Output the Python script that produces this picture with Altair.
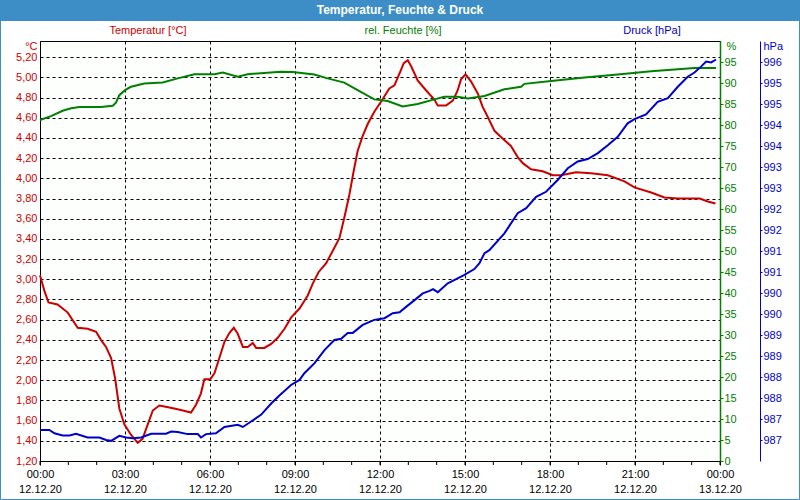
import altair as alt
import pandas as pd

# ---- data (hours since 12.12.20 00:00) ----
temp_h = [0, 0.15, 0.3, 0.62, 0.98, 1.33, 1.68, 1.98, 2.15, 2.33, 2.51, 2.65, 2.80, 2.98, 3.21, 3.45,
          3.62, 3.80, 3.98, 4.21, 4.39, 4.74, 5.04, 5.33, 5.51, 5.68, 5.80, 6.01, 6.16, 6.33, 6.51,
          6.69, 6.84, 6.98, 7.16, 7.33, 7.51, 7.63, 7.92, 8.16, 8.39, 8.63, 8.86, 9.16, 9.45, 9.63,
          9.83, 10.1, 10.33, 10.57, 10.74, 10.92, 11.07, 11.21, 11.39, 11.57, 11.8, 12.04, 12.33,
          12.51, 12.69, 12.84, 12.98, 13.1, 13.33, 13.63, 13.92, 14.04, 14.33, 14.57, 14.74, 14.86,
          15.02, 15.21, 15.45, 15.62, 15.8, 16.04, 16.27, 16.62, 16.86, 17.04, 17.33, 17.74, 18.1,
          18.39, 18.92, 19.45, 20.04, 20.63, 20.98, 21.57, 22.04, 22.51, 23.28, 23.57, 23.84]
temp_v = [3.04, 2.89, 2.77, 2.75, 2.67, 2.52, 2.51, 2.48, 2.40, 2.33, 2.22, 2.02, 1.72, 1.56, 1.46, 1.38,
          1.42, 1.56, 1.70, 1.75, 1.74, 1.72, 1.70, 1.68, 1.76, 1.87, 2.01, 2.01, 2.07, 2.22, 2.38,
          2.47, 2.52, 2.46, 2.33, 2.33, 2.37, 2.32, 2.32, 2.36, 2.42, 2.51, 2.62, 2.71, 2.84, 2.96,
          3.07, 3.16, 3.28, 3.41, 3.61, 3.84, 4.07, 4.27, 4.42, 4.54, 4.66, 4.76, 4.89,
          4.92, 5.04, 5.14, 5.17, 5.11, 4.97, 4.87, 4.78, 4.72, 4.72, 4.77, 4.87, 4.98,
          5.03, 4.96, 4.84, 4.71, 4.61, 4.47, 4.41, 4.32, 4.21, 4.15, 4.09, 4.07, 4.03,
          4.03, 4.06, 4.05, 4.03, 3.97, 3.91, 3.86, 3.81, 3.80, 3.80, 3.77, 3.75]

hum_h = [0, 0.39, 0.8, 1.1, 1.39, 2.15, 2.57, 2.68, 2.8, 3.0, 3.21, 3.68, 4.33, 4.86, 5.45, 6.16, 6.45,
         6.98, 7.33, 8.15, 8.5, 8.92, 9.68, 10.15, 10.74, 11.21, 11.8, 12.27, 12.8, 13.33, 13.92,
         14.27, 14.74, 15.1, 15.69, 16.39, 16.98, 17.1, 18.04, 19.22, 20.39, 21.57, 22.51, 23.1, 23.86]
hum_v = [81.2, 82.1, 83.4, 84.0, 84.3, 84.3, 84.6, 85.3, 87.1, 88.3, 89.1, 89.9, 90.1, 91.1, 92.1, 92.1,
         92.5, 91.5, 92.1, 92.5, 92.7, 92.6, 92.0, 91.1, 90.1, 88.3, 86.1, 85.7, 84.4, 85.0, 86.1,
         86.7, 86.7, 86.3, 86.9, 88.5, 89.1, 89.8, 90.5, 91.3, 92.0, 92.8, 93.3, 93.6, 93.6]

pres_h = [0, 0.33, 0.51, 0.8, 1.04, 1.27, 1.68, 2.1, 2.33, 2.51, 2.8, 3.04, 3.27, 3.57, 3.92, 4.45,
          4.63, 4.86, 5.21, 5.57, 5.68, 5.86, 6.21, 6.51, 6.98, 7.16, 7.45, 7.8, 8.16, 8.45, 8.86,
          9.16, 9.33, 9.69, 10.04, 10.39, 10.63, 10.86, 11.04, 11.39, 11.8, 12.16, 12.45, 12.69,
          12.92, 13.22, 13.51, 13.75, 13.87, 14.04, 14.39, 14.74, 14.98, 15.33, 15.51, 15.69,
          15.86, 16.39, 16.86, 17.16, 17.51, 17.86, 18.27, 18.63, 18.98, 19.33, 19.69, 20.04,
          20.39, 20.74, 20.98, 21.39, 21.8, 22.16, 22.51, 22.86, 23.1, 23.33, 23.51, 23.69, 23.86]
pres_v = [986.94, 986.94, 986.86, 986.81, 986.81, 986.85, 986.76, 986.76, 986.70, 986.68, 986.80,
          986.76, 986.74, 986.76, 986.85, 986.85, 986.90, 986.89, 986.84, 986.84, 986.76, 986.84,
          986.86, 987.01, 987.06, 987.01, 987.14, 987.30, 987.57, 987.76, 988.01, 988.13, 988.29,
          988.53, 988.84, 989.08, 989.11, 989.25, 989.25, 989.44, 989.56, 989.60, 989.72, 989.74,
          989.87, 990.03, 990.19, 990.25, 990.29, 990.22, 990.43, 990.55, 990.63, 990.77, 990.91,
          991.15, 991.22, 991.62, 992.10, 992.22, 992.49, 992.61, 992.89, 993.17, 993.33, 993.39,
          993.53, 993.72, 993.92, 994.24, 994.34, 994.45, 994.75, 994.84, 995.11, 995.35, 995.45,
          995.59, 995.71, 995.69, 995.76]

temp_ticks = [1.2, 1.4, 1.6, 1.8, 2.0, 2.2, 2.4, 2.6, 2.8, 3.0, 3.2, 3.4, 3.6, 3.8, 4.0, 4.2, 4.4,
              4.6, 4.8, 5.0, 5.2]
hum_ticks = [0, 5, 10, 15, 20, 25, 30, 35, 40, 45, 50, 55, 60, 65, 70, 75, 80, 85, 90, 95]
pres_ticks = [986.7, 987.2, 987.7, 988.2, 988.7, 989.2, 989.7, 990.2, 990.7, 991.2, 991.7, 992.2,
              992.7, 993.2, 993.7, 994.2, 994.7, 995.2, 995.7]
major_hours = [0, 3, 6, 9, 12, 15, 18, 21, 24]
minor_hours = list(range(25))

RED = "#cc0000"
GREEN = "#008000"
BLUE = "#0000cc"
FONT = "Liberation Sans"

df_t = pd.DataFrame({"h": temp_h, "v": temp_v})
df_f = pd.DataFrame({"h": hum_h, "v": hum_v})
df_p = pd.DataFrame({"h": pres_h, "v": pres_v})
df_minor = pd.DataFrame({"h": minor_hours})

xscale = alt.Scale(domain=[0, 24], nice=False, zero=False)

x_axis = alt.Axis(
    values=major_hours, title=None, domain=False, tickSize=4, tickColor="black",
    labelExpr="[(datum.value % 24 < 10 ? '0' : '') + (datum.value % 24) + ':00', datum.value < 24 ? '12.12.20' : '13.12.20']",
    labelFlush=False, labelOverlap=False, labelBound=False, labelPadding=3,
    labelLineHeight=15, labelFontSize=11, labelFont=FONT, labelColor="black",
    grid=True, gridColor="black", gridDash=[3, 3], gridWidth=1,
)
X = alt.X("h:Q", scale=xscale, axis=x_axis)

temp = alt.Chart(df_t).mark_line(color=RED, strokeWidth=2).encode(
    x=X,
    y=alt.Y("v:Q", scale=alt.Scale(domain=[1.2, 5.36], nice=False, zero=False),
            axis=alt.Axis(orient="left", values=temp_ticks,
                          labelExpr="replace(format(datum.value, '.2f'), '.', ',')",
                          labelColor=RED, labelFont=FONT, labelFontSize=11, labelPadding=3,
                          ticks=False, domain=False,
                          grid=True, gridColor="black", gridDash=[3, 3], gridWidth=1,
                          title="°C", titleColor=RED, titleFont=FONT, titleFontSize=11,
                          titleFontWeight="normal", titleAngle=0, titleAlign="right",
                          titleBaseline="middle", titleX=-3, titleY=5)),
)

hum = alt.Chart(df_f).mark_line(color=GREEN, strokeWidth=2).encode(
    x=X,
    y=alt.Y("v:Q", scale=alt.Scale(domain=[0, 100], nice=False, zero=False),
            axis=alt.Axis(orient="right", values=hum_ticks, format="d",
                          labelColor=GREEN, labelFont=FONT, labelFontSize=11, labelPadding=1,
                          tickColor=GREEN, tickSize=3, domainColor=GREEN, domainWidth=1.5,
                          grid=False,
                          title="%", titleColor=GREEN, titleFont=FONT, titleFontSize=11,
                          titleFontWeight="normal", titleAngle=0, titleAlign="left",
                          titleBaseline="middle", titleX=6, titleY=5)),
)

pres = alt.Chart(df_p).mark_line(color=BLUE, strokeWidth=2).encode(
    x=X,
    y=alt.Y("v:Q", scale=alt.Scale(domain=[986.2, 996.2], nice=False, zero=False),
            axis=alt.Axis(orient="right", offset=40, values=pres_ticks, format=".0f",
                          labelColor=BLUE, labelFont=FONT, labelFontSize=11, labelPadding=1,
                          tickColor=BLUE, tickSize=2, domainColor=BLUE, domainWidth=1,
                          grid=False,
                          title="hPa", titleColor=BLUE, titleFont=FONT, titleFontSize=11,
                          titleFontWeight="normal", titleAngle=0, titleAlign="left",
                          titleBaseline="middle", titleX=3, titleY=5)),
)

minor = alt.Chart(df_minor).mark_rule(color="black", strokeWidth=1, clip=False).encode(
    x=X, y=alt.value(420), y2=alt.value(424))

one = pd.DataFrame({"a": [0]})

title_bar = alt.Chart(one).mark_rect(color="#3d8ec6", clip=False).encode(
    x=alt.value(-40), x2=alt.value(760), y=alt.value(-41), y2=alt.value(-20))
title_txt = alt.Chart(one).mark_text(text="Temperatur, Feuchte & Druck", color="white",
                                     font=FONT, fontSize=12, fontWeight="bold",
                                     align="center", baseline="middle").encode(
    x=alt.value(360), y=alt.value(-31))
border = alt.Chart(one).mark_rect(fill=None, stroke="#3d8ec6", strokeWidth=1, clip=False).encode(
    x=alt.value(-39.5), x2=alt.value(759.5), y=alt.value(-40.5), y2=alt.value(458.5))

lbl_t = alt.Chart(one).mark_text(text="Temperatur [°C]", color=RED, font=FONT, fontSize=11,
                                 align="center", baseline="middle").encode(
    x=alt.value(108), y=alt.value(-10))
lbl_f = alt.Chart(one).mark_text(text="rel. Feuchte [%]", color=GREEN, font=FONT, fontSize=11,
                                 align="center", baseline="middle").encode(
    x=alt.value(363), y=alt.value(-10))
lbl_p = alt.Chart(one).mark_text(text="Druck [hPa]", color=BLUE, font=FONT, fontSize=11,
                                 align="center", baseline="middle").encode(
    x=alt.value(612), y=alt.value(-10))

chart = alt.layer(
    temp, hum, pres, minor, title_bar, title_txt, border, lbl_t, lbl_f, lbl_p
).resolve_scale(y="independent").properties(
    width=680, height=420,
    autosize=alt.AutoSizeParams(type="none"),
    padding={"left": 40, "top": 41, "right": 80, "bottom": 39},
    background="white",
).configure_view(stroke="black", strokeWidth=1, fill="#fcfffc")

chart.save("out.html", embed_options={"renderer": "svg", "actions": False})
